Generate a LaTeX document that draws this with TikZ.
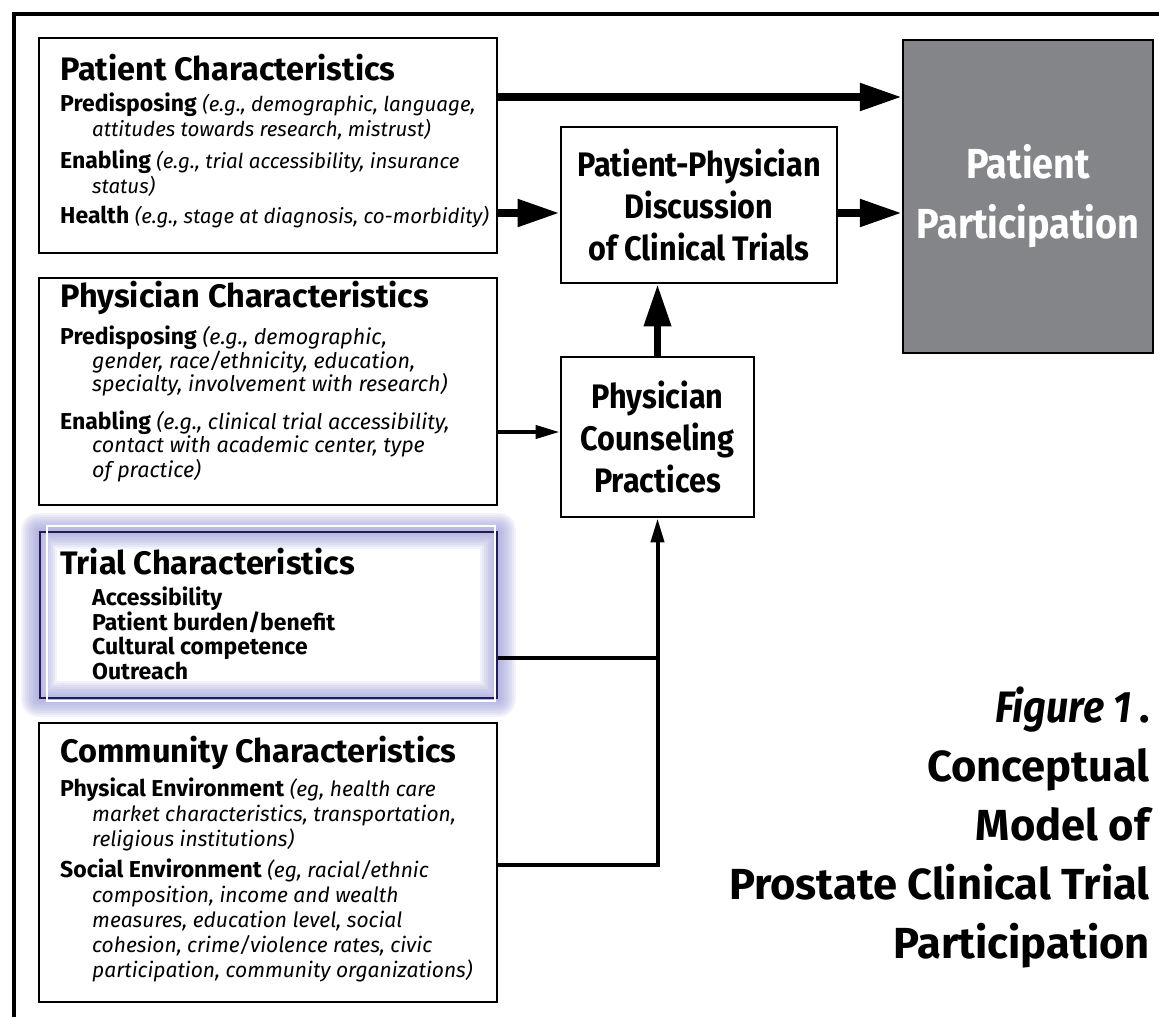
\documentclass[tikz,border=0pt]{standalone}
\usepackage{fontspec}
\setmainfont{Fira Sans}
\newfontfamily\condfont{Fira Sans}[FakeStretch=0.9]
\usetikzlibrary{arrows.meta,positioning,backgrounds}
\definecolor{boxgray}{RGB}{132,133,136}
\definecolor{glowblue}{RGB}{150,150,212}
\definecolor{navy}{RGB}{30,30,80}
\tikzset{
  charbox/.style={draw, line width=2.8pt, minimum width=458pt, inner sep=0pt},
  flowbox/.style={draw, line width=2.8pt, inner sep=0pt, align=center, font=\condfont\bfseries\fontsize{34}{42}\selectfont},
  chartext/.style={anchor=base west, inner sep=0pt, align=left},
  bigarrow/.style={line width=8pt, -{Triangle[length=42pt,width=26pt]}},
  smallarrow/.style={line width=4pt, -{Triangle[length=24pt,width=13pt]}},
  feeder/.style={line width=4pt}
}
\newcommand\boxtitle[1]{{\fontsize{32.5}{30}\selectfont\bfseries #1}}
\newcommand\lab[1]{{\fontsize{23}{25}\selectfont\bfseries #1}}
\newcommand\contline{\hspace*{32pt}}
\begin{document}
\begin{tikzpicture}[x=1pt,y=-1pt]
\useasboundingbox (0,0) rectangle (1159,1017);
\draw[line width=3.5pt] (14,1020) -- (14,14) -- (1162,14);

\node[charbox, minimum height=215pt] (patient) at (268,145.5) {};
\node[charbox, minimum height=227pt] (physician) at (268,391.5) {};
\node[charbox, draw=navy, minimum width=457pt, minimum height=166pt] (trial) at (268.5,615) {};
\node[charbox, minimum height=279pt] (community) at (268,862.5) {};

\begin{scope}[on background layer]
  \foreach \w in {36,32,...,4} {
    \draw[glowblue, line width=\w pt, opacity=0.12, line join=round] (trial.north west) rectangle (trial.south east);
  }
\end{scope}
\draw[white, line width=1.5pt] (47,526) rectangle (495,701);

\node[flowbox, minimum width=276pt, minimum height=156pt] (discuss) at (699,205) {Patient-Physician\\Discussion\\of Clinical Trials};
\node[flowbox, minimum width=193pt, minimum height=160pt] (counsel) at (657.5,437) {Physician\\Counseling\\Practices};
\node[flowbox, fill=boxgray, text=white, line width=2.2pt, minimum width=250pt, minimum height=313pt, font=\condfont\bfseries\fontsize{42}{60}\selectfont] (outcome) at (1028,196.5) {Patient\\Participation};

\node[chartext, font=\fontsize{20.5}{25}\selectfont] (patient-text) at (60,223) {\boxtitle{Patient Characteristics}\\[6pt]
  \lab{Predisposing} \textit{(e.g., demographic, language,}\\
  \contline\textit{attitudes towards research, mistrust)}\\[7pt]
  \lab{Enabling} \textit{(e.g., trial accessibility, insurance}\\
  \contline\textit{status)}\\[5pt]
  \lab{Health} \textit{(e.g., stage at diagnosis, co-morbidity)}};

\node[chartext, font=\fontsize{21.5}{22}\selectfont] (physician-text) at (60,477) {\boxtitle{Physician Characteristics}\\[10pt]
  \lab{Predisposing} \textit{(e.g., demographic,}\\
  \contline\textit{gender, race/ethnicity, education,}\\
  \contline\textit{specialty, involvement with research)}\\[13pt]
  \lab{Enabling} \textit{(e.g., clinical trial accessibility,}\\[1pt]
  \contline\textit{contact with academic center, type}\\[1pt]
  \contline\textit{of practice)}};

\node[chartext, font=\fontsize{23}{24.5}\selectfont] (trial-text) at (60,679) {\boxtitle{Trial Characteristics}\\[6.5pt]
  \contline\textbf{Accessibility}\\
  \contline\textbf{Patient burden/benefit}\\
  \contline\textbf{Cultural competence}\\
  \contline\textbf{Outreach}};

\node[chartext, font=\fontsize{21}{25}\selectfont] (community-text) at (60,977) {\boxtitle{Community Characteristics}\\[7pt]
  \lab{Physical Environment} \textit{(eg, health care}\\
  \contline\textit{market characteristics, transportation,}\\
  \contline\textit{religious institutions)}\\[6pt]
  \lab{Social Environment} \textit{(eg, racial/ethnic}\\
  \contline\textit{composition, income and wealth}\\
  \contline\textit{measures, education level, social}\\
  \contline\textit{cohesion, crime/violence rates, civic}\\
  \contline\textit{participation, community organizations)}};

\node[anchor=base east, inner sep=0pt, align=right, font=\bfseries\fontsize{43.5}{59}\selectfont] (caption) at (1150,958) {{\condfont\bfseries\itshape\fontsize{44}{59}\selectfont Figure 1}\hspace{8pt}.\\Conceptual\\Model of\hspace*{10pt}\\Prostate Clinical Trial\\Participation};

\coordinate (toprow) at (0,97);
\coordinate (midrow) at (0,213);
\coordinate (pcrow) at (0,432);
\coordinate (trialjoin) at (657.5,658);
\coordinate (commjoin) at (657.5,865);
\draw[bigarrow] (patient.east |- toprow) -- (outcome.west |- toprow);
\draw[bigarrow] (patient.east |- midrow) -- (discuss.west |- midrow);
\draw[bigarrow] (discuss.east |- midrow) -- (outcome.west |- midrow);
\draw[bigarrow, line width=7pt] (counsel.north) -- (counsel.north |- discuss.south);
\draw[smallarrow] (physician.east |- pcrow) -- (counsel.west |- pcrow);
\draw[feeder] (trial.east |- trialjoin) -- (trialjoin);
\draw[smallarrow] (community.east |- commjoin) -- (commjoin) -- (counsel.south);
\end{tikzpicture}
\end{document}
